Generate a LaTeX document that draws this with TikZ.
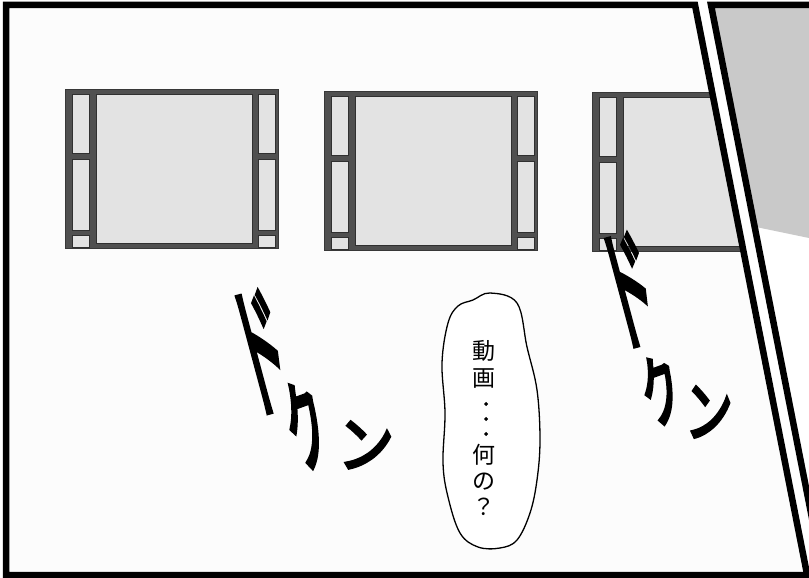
\documentclass[tikz,border=0pt]{standalone}
\usepackage{fontspec}
\newfontfamily\jpfont{Noto Sans CJK JP}
\newfontfamily\dotfont[FakeBold=4]{Noto Sans CJK JP}
\newfontfamily\sfxfont[FakeBold=5]{Noto Sans CJK JP}
\definecolor{paper}{HTML}{FCFCFC}
\definecolor{panelgrey}{HTML}{C9C9C9}
\definecolor{winframe}{HTML}{505050}
\definecolor{wingrey}{HTML}{E3E3E3}
\begin{document}
\begin{tikzpicture}[x=1pt,y=-1pt]
        \tikzstyle{frame}=[line width=6.5pt,black]
        \tikzstyle{sill}=[fill=winframe,draw=winframe!70!black,line width=0.8pt]
        \tikzstyle{pane}=[fill=wingrey,draw=winframe!60!black,line width=0.6pt]
        \tikzstyle{sfx}=[font=\sfxfont\fontsize{56}{56}\selectfont,inner sep=0pt]
        \tikzstyle{word}=[font=\jpfont\fontsize{23}{23}\selectfont,inner sep=0pt]
        \useasboundingbox (0,0) rectangle (809,578);
        \fill[white] (0,0) rectangle (809,578);
        \fill[paper] (6,5) -- (695,5) -- (807,578) -- (6,578) -- cycle;
        \fill[panelgrey] (711,5) -- (756,227) -- (809,238) -- (809,5) -- cycle;
        \begin{scope}
            \clip (6,5) -- (695,5) -- (807,578) -- (6,578) -- cycle;
            \foreach \wx/\wy in {65/89, 324/91, 592/92} {
                \begin{scope}[shift={(\wx,\wy)}]
                    \filldraw[sill] (0,0) rectangle (213,159);
                    \filldraw[pane] (31,5) rectangle (187,154);
                    \foreach \px in {7,193} {
                        \filldraw[pane] (\px,5) rectangle ++(17,59);
                        \filldraw[pane] (\px,70) rectangle ++(17,71);
                        \filldraw[pane] (\px,146) rectangle ++(17,12);
                    }
                \end{scope}
            }
        \end{scope}
        \draw[frame] (818,630) -- (695,5) -- (6,5) -- (6,575) -- (830,575);
        \draw[frame] (830,5) -- (711,5) -- (834,630);
        \filldraw[fill=white,line width=1.3pt] plot[smooth cycle,tension=0.6] coordinates {(490,293) (517,303) (527,347) (537,390) (540,440) (537,480) (530,513) (517,540) (500,548) (478,547) (460,533) (448,497) (443,463) (445,413) (442,363) (448,323) (458,306) (473,300)};
        \node[word] (c1) at (484,351) {動};
        \node[word] (c2) at (484,379) {画};
        \node[word,font=\dotfont\fontsize{15}{15}\selectfont,rotate=-90] (c3) at (484,419) {・・・};
        \node[word] (c4) at (484,455) {何};
        \node[word] (c5) at (484,482) {の};
        \node[word] (c6) at (484,507) {？};
        \node[sfx,rotate=15,xscale=0.85,yscale=2.6] (do1) at (261,352) {ド};
        \node[sfx,rotate=20,xscale=0.7,yscale=1.8] (ku1) at (306,425) {ク};
        \node[sfx,xscale=1.0,yscale=1.1] (n1) at (366,445) {ン};
        \node[sfx,rotate=15,xscale=0.85,yscale=2.4] (do2) at (629,290) {ド};
        \node[sfx,rotate=20,xscale=0.7,yscale=1.4] (ku2) at (661,390) {ク};
        \node[sfx,xscale=0.85,yscale=1.2] (n2) at (709,412) {ン};
\end{tikzpicture}
\end{document}
